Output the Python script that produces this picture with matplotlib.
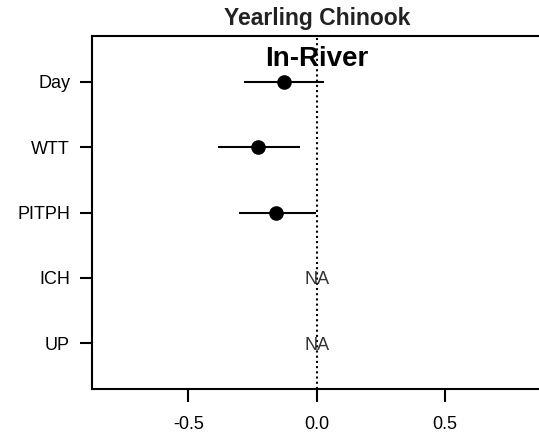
import numpy as np
import matplotlib
matplotlib.use("Agg")
import matplotlib.pyplot as plt

plt.rcParams['font.family'] = ['Liberation Sans', 'DejaVu Sans']

# koeficienty (odhad a 95% interval), NaN = model nemá odhad
promenne = ["Day", "WTT", "PITPH", "ICH", "UP"]
odhad = [-0.128, -0.229, -0.158, np.nan, np.nan]
dolni = [-0.284, -0.386, -0.303, np.nan, np.nan]
horni = [0.028, -0.065, -0.002, np.nan, np.nan]

fig = plt.figure(figsize=(5.39, 4.36), dpi=100)
ax = fig.add_axes([0.1712, 0.1071, 0.8328, 0.811])

pozice = np.arange(len(promenne), 0, -1)

for y, m, lo, hi in zip(pozice, odhad, dolni, horni):
    if np.isnan(m):
        ax.text(0, y - 0.03, "NA", ha='center', va='center', fontsize=13, color='#333333')
        continue
    ax.plot([lo, hi], [y, y], color='black', lw=1.5, solid_capstyle='butt')
    ax.plot(m, y, 'o', color='black', markersize=9.5)

ax.axvline(0, color='black', lw=1.5, ls=(0, (1, 1.5)), zorder=0)

ax.set_xlim(-0.874, 0.874)
ax.set_ylim(0.3, 5.7)
ax.set_yticks(pozice)
ax.set_yticklabels(promenne)
ax.set_xticks([-0.5, 0.0, 0.5])
ax.set_xticklabels(["-0.5", "0.0", "0.5"])
ax.tick_params(axis='both', direction='out', length=9, width=1.5, labelsize=13)
ax.tick_params(axis='y', pad=7)
ax.tick_params(axis='x', pad=10)

for s in ['left', 'top', 'bottom']:
    ax.spines[s].set_linewidth(1.5)
ax.spines['right'].set_visible(False)

ax.text(0.5, 0.934, "In-River", transform=ax.transAxes, ha='center', va='center',
        fontsize=20, fontweight='bold')
fig.text(316.7 / 539, 1 - 19 / 436, "Yearling Chinook", ha='center', va='center',
         fontsize=16.5, fontweight='bold', color='#222222')

fig.savefig("out.png", dpi=100)
